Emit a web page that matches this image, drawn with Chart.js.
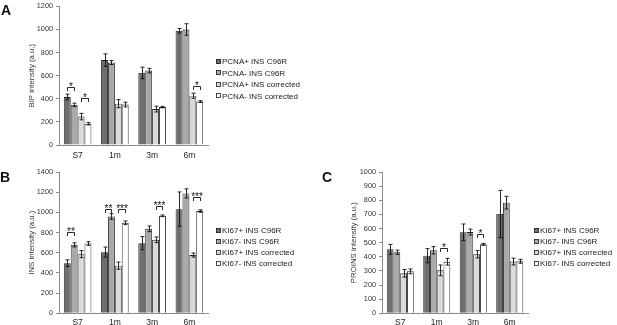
<!DOCTYPE html>
<html><head><meta charset="utf-8">
<script src="https://cdn.jsdelivr.net/npm/chart.js@4.4.1/dist/chart.umd.min.js"></script>
<style>
html,body{margin:0;padding:0;background:#fff;width:617px;height:325px;overflow:hidden;position:relative}
canvas{position:absolute}
</style></head><body>
<canvas id="cA" width="310" height="163" style="left:0;top:-1px;width:310px;height:163px"></canvas>
<canvas id="cB" width="310" height="165" style="left:0;top:160px;width:310px;height:165px"></canvas>
<canvas id="cC" width="307" height="165" style="left:310px;top:160px;width:307px;height:165px"></canvas>
<script>
// ---------- shared ----------
const categories = ['S7', '1m', '3m', '6m'];
const barColors = ['#6f6f6f', '#a9a9a9', '#dadada', '#ffffff'];

// ---------- Panel A : BIP intensity ----------
const bipSeries = ['PCNA+ INS C96R', 'PCNA- INS C96R', 'PCNA+ INS corrected', 'PCNA- INS corrected'];
const bipPcnaPosC96R = [415, 735, 624, 989];
const bipPcnaNegC96R = [347, 714, 644, 1000];
const bipPcnaPosCorr = [246, 358, 311, 427];
const bipPcnaNegCorr = [184, 350, 328, 376];
const bipErrPcnaPosC96R = [25, 54, 50, 20];
const bipErrPcnaNegC96R = [15, 17, 20, 50];
const bipErrPcnaPosCorr = [28, 35, 25, 22];
const bipErrPcnaNegCorr = [10, 20, 6, 8];
const bipTicks = [0, 200, 400, 600, 800, 1000, 1200];
// [category, bar from, bar to, height, label]
const bipSig = [[0, 0, 1, 500, '*'], [0, 2, 3, 408, '*'], [3, 2, 3, 508, '*']];

// ---------- Panel B : INS intensity ----------
const insSeries = ['KI67+ INS C96R', 'KI67- INS C96R', 'KI67+ INS corrected', 'KI67- INS corrected'];
const insKi67PosC96R = [497, 606, 695, 1032];
const insKi67NegC96R = [678, 959, 837, 1188];
const insKi67PosCorr = [586, 472, 728, 577];
const insKi67NegCorr = [691, 897, 966, 1013];
const insErrKi67PosC96R = [33, 50, 65, 170];
const insErrKi67NegC96R = [20, 28, 28, 45];
const insErrKi67PosCorr = [35, 35, 28, 20];
const insErrKi67NegCorr = [18, 18, 8, 12];
const insTicks = [0, 200, 400, 600, 800, 1000, 1200, 1400];
const insSig = [[0, 0, 1, 810, '**'], [1, 0, 1, 1033, '**'], [1, 2, 3, 1033, '***'], [2, 2, 3, 1059, '***'], [3, 2, 3, 1152, '***']];

// ---------- Panel C : PROINS intensity ----------
const proSeries = ['KI67+ INS C96R', 'KI67- INS C96R', 'KI67+ INS corrected', 'KI67- INS corrected'];
const proKi67PosC96R = [453, 408, 573, 703];
const proKi67NegC96R = [432, 446, 575, 783];
const proKi67PosCorr = [283, 304, 418, 366];
const proKi67NegCorr = [297, 365, 488, 368];
const proErrKi67PosC96R = [35, 50, 59, 167];
const proErrKi67NegC96R = [15, 26, 21, 45];
const proErrKi67PosCorr = [27, 38, 26, 24];
const proErrKi67NegCorr = [17, 24, 7, 14];
const proTicks = [0, 100, 200, 300, 400, 500, 600, 700, 800, 900, 1000];
const proSig = [[1, 2, 3, 460, '*'], [2, 2, 3, 561, '*']];

const FONT = '"Liberation Sans", Arial, Helvetica, sans-serif';
Chart.defaults.font.family = FONT;
Chart.defaults.color = '#333';

const extras = {
  id: 'extras',
  afterDatasetsDraw(chart, args, o) {
    const ctx = chart.ctx, ys = chart.scales.y;
    ctx.save();
    ctx.strokeStyle = '#111';
    ctx.lineWidth = 0.9;
    o.errors.forEach((errs, i) => {
      const meta = chart.getDatasetMeta(i);
      const vals = chart.data.datasets[i].data;
      meta.data.forEach((bar, j) => {
        const x = Math.round(bar.x) + 0.5;
        const yh = ys.getPixelForValue(vals[j] + errs[j]);
        const yl = ys.getPixelForValue(vals[j] - errs[j]);
        ctx.beginPath();
        ctx.moveTo(x, yh); ctx.lineTo(x, yl);
        ctx.moveTo(x - 2, yh); ctx.lineTo(x + 2, yh);
        ctx.moveTo(x - 2, yl); ctx.lineTo(x + 2, yl);
        ctx.stroke();
      });
    });
    ctx.font = '10px ' + FONT;
    ctx.textAlign = 'center';
    ctx.textBaseline = 'alphabetic';
    ctx.fillStyle = '#111';
    o.sig.forEach(([c, a, b, v, label]) => {
      const x1 = Math.round(chart.getDatasetMeta(a).data[c].x) + 0.5;
      const x2 = Math.round(chart.getDatasetMeta(b).data[c].x) + 0.5;
      const yy = Math.round(ys.getPixelForValue(v)) + 0.5;
      ctx.beginPath();
      ctx.moveTo(x1, yy + 3.5); ctx.lineTo(x1, yy); ctx.lineTo(x2, yy); ctx.lineTo(x2, yy + 3.5);
      ctx.stroke();
      ctx.fillText(label, (x1 + x2) / 2, yy + 2);
    });
    ctx.restore();
  },
  afterDraw(chart, args, o) {
    const ctx = chart.ctx;
    ctx.save();
    ctx.font = '8px ' + FONT;
    ctx.textAlign = 'left';
    ctx.textBaseline = 'middle';
    chart.data.datasets.forEach((ds, i) => {
      const y = o.legendY + i * o.legendStep;
      ctx.fillStyle = ds.backgroundColor;
      ctx.fillRect(o.legendX, Math.round(y - 2.5), 5, 5);
      ctx.strokeStyle = '#222';
      ctx.lineWidth = 0.8;
      ctx.strokeRect(o.legendX + 0.5, Math.round(y - 2.5) + 0.5, 4, 4);
      ctx.fillStyle = '#222';
      ctx.fillText(ds.label, o.legendX + 6, y + 0.5);
    });
    ctx.font = 'bold 14px ' + FONT;
    ctx.textBaseline = 'alphabetic';
    ctx.fillStyle = '#111';
    ctx.fillText(o.letter, o.letterX, o.letterY);
    ctx.restore();
  }
};

function makeChart(id, cfg) {
  const datasets = cfg.series.map((name, i) => ({
    label: name,
    data: cfg.values[i],
    backgroundColor: barColors[i],
    borderColor: '#222',
    borderWidth: 0.9,
    categoryPercentage: 0.74,
    barPercentage: 1.0
  }));
  return new Chart(document.getElementById(id), {
    type: 'bar',
    data: { labels: categories, datasets },
    plugins: [extras],
    options: {
      responsive: false,
      animation: false,
      devicePixelRatio: 1,
      layout: { padding: { left: 0, right: cfg.padRight, top: cfg.padTop, bottom: 0 } },
      plugins: {
        legend: { display: false },
        tooltip: { enabled: false },
        extras: {
          errors: cfg.errors, sig: cfg.sig,
          legendX: cfg.legendX, legendY: cfg.legendY, legendStep: cfg.legendStep,
          letter: cfg.letter, letterX: cfg.letterX, letterY: cfg.letterY
        }
      },
      scales: {
        x: {
          grid: { display: false, drawTicks: false },
          border: { display: true, color: '#8a8a8a', width: 1 },
          ticks: { font: { size: 8.5 }, color: '#222', padding: cfg.xPad, maxRotation: 0 },
          afterFit(s) { s.height = cfg.xHeight; }
        },
        y: {
          min: 0, max: cfg.ticks[cfg.ticks.length - 1],
          afterBuildTicks(s) { s.ticks = cfg.ticks.map(v => ({ value: v })); },
          grid: { display: true, drawOnChartArea: false, drawTicks: true, tickLength: 3, color: '#8a8a8a' },
          border: { display: true, color: '#8a8a8a', width: 1 },
          ticks: { font: { size: 7.3 }, color: '#333', padding: 3, callback: v => String(v) },
          title: { display: true, text: cfg.title, font: { size: 7.8 }, color: '#333', padding: { top: cfg.titlePad, bottom: 0 } },
          afterFit(s) { s.width = cfg.yWidth; }
        }
      }
    }
  });
}

makeChart('cA', {
  series: bipSeries,
  values: [bipPcnaPosC96R, bipPcnaNegC96R, bipPcnaPosCorr, bipPcnaNegCorr],
  errors: [bipErrPcnaPosC96R, bipErrPcnaNegC96R, bipErrPcnaPosCorr, bipErrPcnaNegCorr],
  sig: bipSig, ticks: bipTicks, title: 'BIP intensity (a.u.)',
  padRight: 102, padTop: 0, yWidth: 59, xHeight: 17, xPad: 6, titlePad: 27.3,
  legendX: 216, legendY: 62.3, legendStep: 11.5,
  letter: 'A', letterX: 1, letterY: 16
});
makeChart('cB', {
  series: insSeries,
  values: [insKi67PosC96R, insKi67NegC96R, insKi67PosCorr, insKi67NegCorr],
  errors: [insErrKi67PosC96R, insErrKi67NegC96R, insErrKi67PosCorr, insErrKi67NegCorr],
  sig: insSig, ticks: insTicks, title: 'INS intensity (a.u.)',
  padRight: 102, padTop: 12, yWidth: 59, xHeight: 11.7, xPad: 4, titlePad: 27.3,
  legendX: 216, legendY: 70.7, legendStep: 11,
  letter: 'B', letterX: 0, letterY: 22
});
makeChart('cC', {
  series: proSeries,
  values: [proKi67PosC96R, proKi67NegC96R, proKi67PosCorr, proKi67NegCorr],
  errors: [proErrKi67PosC96R, proErrKi67NegC96R, proErrKi67PosCorr, proErrKi67NegCorr],
  sig: proSig, ticks: proTicks, title: 'PROINS intensity (a.u.)',
  padRight: 89, padTop: 12, yWidth: 72, xHeight: 11.7, xPad: 4, titlePad: 39.3,
  legendX: 224, legendY: 70.7, legendStep: 11,
  letter: 'C', letterX: 12, letterY: 22
});
</script>
</body></html>
